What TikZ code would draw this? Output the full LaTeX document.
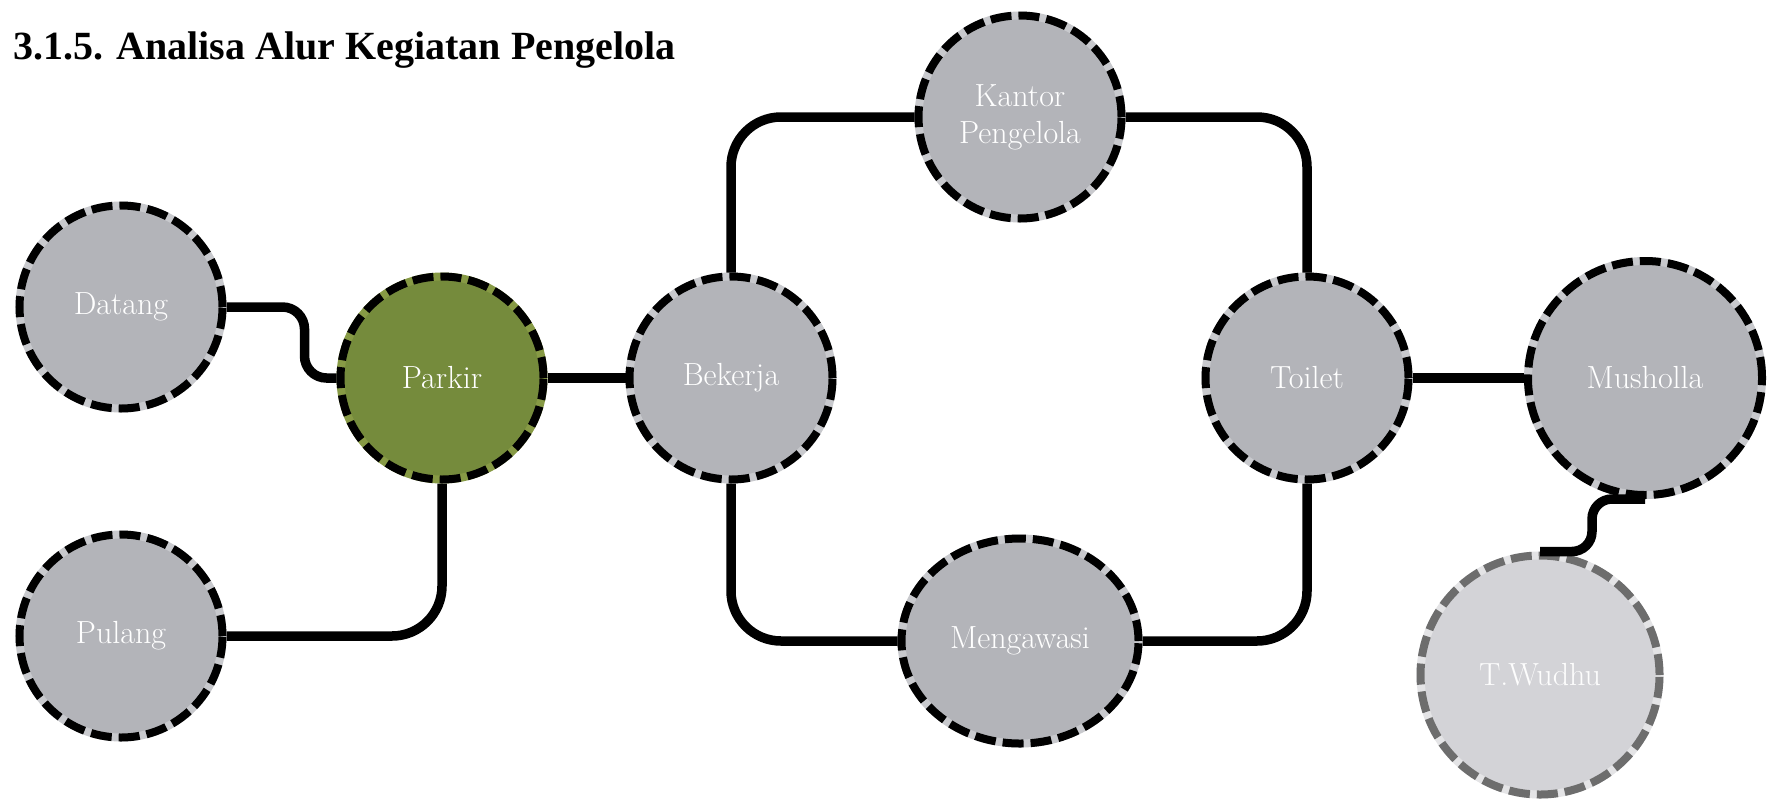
\documentclass[tikz,border=0pt]{standalone}
\usepackage{fontspec}
\newfontfamily\titlefont{Liberation Serif}
\usetikzlibrary{shapes.geometric}
\definecolor{nodegrey}{HTML}{B3B4B9}
\definecolor{gapgrey}{HTML}{C8C9CD}
\definecolor{parkirgreen}{HTML}{758B3C}
\definecolor{gapgreen}{HTML}{879A45}
\definecolor{wudhufill}{HTML}{D3D3D7}
\definecolor{wudhudash}{HTML}{6D6D6D}
\definecolor{wudhugap}{HTML}{E4E4E6}
\tikzset{alur/.style={line width=9.5pt,draw=black}}

\begin{document}
\begin{tikzpicture}[x=1pt,y=-1pt]
\tikzstyle{dasar}=[circle,minimum size=203pt,inner sep=0pt,line width=8pt,align=center,text=white,font=\fontsize{32}{37}\selectfont]
\tikzstyle{ruang}=[dasar,fill=nodegrey,draw=gapgrey,postaction={draw=black,dash pattern=on 21pt off 7pt}]
\tikzstyle{hijau}=[dasar,fill=parkirgreen,draw=gapgreen,postaction={draw=black,dash pattern=on 21pt off 7pt}]
\tikzstyle{wudhu}=[dasar,fill=wudhufill,draw=wudhugap,text=white!95!wudhufill,postaction={draw=wudhudash,dash pattern=on 21pt off 7pt}]

\useasboundingbox (0,0) rectangle (1768,801);

\node[anchor=base west,inner sep=0pt,font=\titlefont\bfseries\fontsize{40}{48}\selectfont] (judul) at (13,59) {3.1.5. Analisa Alur Kegiatan Pengelola};

   \path (121,307) node[ruang] (datang) {Datang}
         (121,636) node[ruang] (pulang) {Pulang}
         (442,378) node[hijau] (parkir) {Parkir}
         (731,378) node[ruang] (bekerja) {Bekerja}
         (1020,117) node[ruang] (kantor) {Kantor\\Pengelola}
         (1020,641) node[ruang,ellipse,minimum width=237pt,minimum height=205pt] (mengawasi) {Mengawasi}
         (1307,378) node[ruang] (toilet) {Toilet}
         (1645,378) node[ruang,minimum size=234pt] (musholla) {Musholla}
         (1540,675) node[wudhu,minimum size=239pt] (twudhu) {T.Wudhu};

    % jalur kegiatan
    \draw[alur,rounded corners=22pt] (datang.east) -- ++(78,0) |- (parkir.west);
    \draw[alur,rounded corners=50pt] (pulang.east) -| (parkir.south);
    \draw[alur] (parkir.east) -- (bekerja.west);
    \draw[alur,rounded corners=50pt] (bekerja.north) |- (kantor.west);
    \draw[alur,rounded corners=50pt] (kantor.east) -| (toilet.north);
    \draw[alur,rounded corners=50pt] (bekerja.south) |- (mengawasi.west);
    \draw[alur,rounded corners=50pt] (mengawasi.east) -| (toilet.south);
    \draw[alur] (toilet.east) -- (musholla.west);
    \draw[alur,rounded corners=20pt] (musholla.south) -- ++(-53,0) |- (twudhu.north);
\end{tikzpicture}
\end{document}
